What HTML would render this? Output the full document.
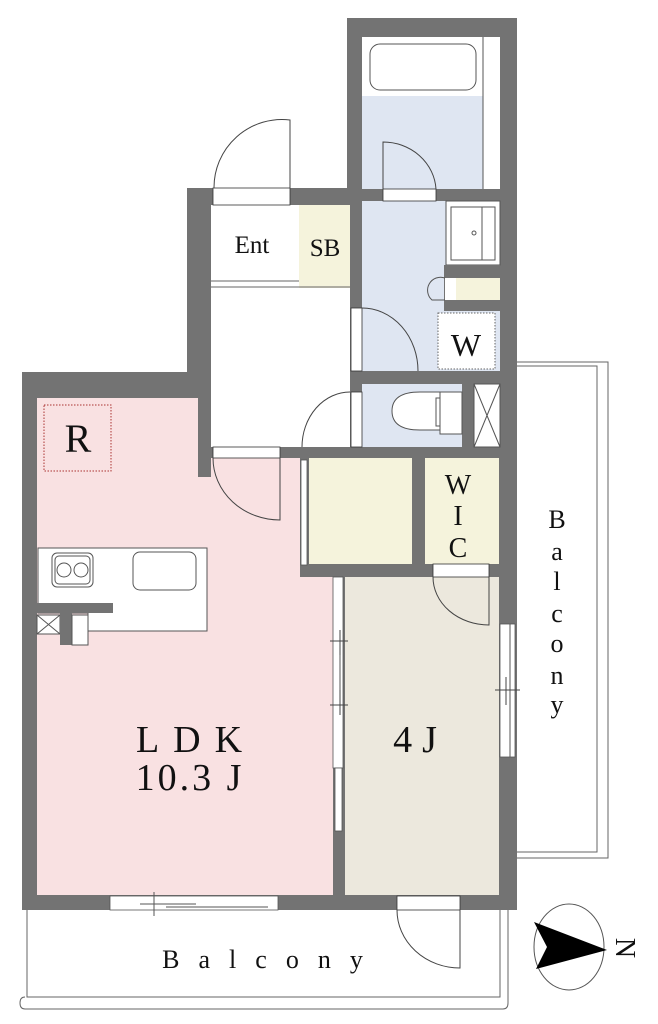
<!DOCTYPE html>
<html><head><meta charset="utf-8"><style>
html,body{margin:0;padding:0;background:#fff;}
svg{display:block;}
text{font-family:"Liberation Serif","Noto Serif CJK SC",serif;fill:#111;}
</style></head><body>
<svg width="658" height="1024" viewBox="0 0 658 1024" xmlns="http://www.w3.org/2000/svg">
<path d="M517,362 H608 V858 H517" fill="none" stroke="#666" stroke-width="1"/>
<path d="M517,366 H597 V852 H517" fill="none" stroke="#666" stroke-width="1"/>
<path d="M27,910 V997 H500 V910" fill="none" stroke="#666" stroke-width="1"/>
<path d="M508,910 V1003 Q508,1009 503,1009 H25 Q20,1009 20,1003 Q20,997 25,997" fill="none" stroke="#666" stroke-width="1"/>

<path d="M22,372 H187 V188 H347 V18 H517 V910 H22 Z" fill="#737373"/>

<rect x="362" y="37" width="138" height="152" fill="#fff"/>
<rect x="362" y="96" width="121" height="93" fill="#dfe6f2"/>
<line x1="483" y1="37" x2="483" y2="189" stroke="#555" stroke-width="1"/>
<rect x="370" y="44" width="106" height="46" rx="10" fill="#fff" stroke="#555" stroke-width="1"/>
<rect x="362" y="201" width="138" height="170" fill="#dfe6f2"/>
<rect x="446" y="201" width="54" height="64" fill="#fff" stroke="#555"/>
<rect x="451" y="207" width="44" height="53" fill="#fff" stroke="#555"/>
<line x1="482" y1="207" x2="482" y2="260" stroke="#555"/>
<circle cx="474" cy="233" r="2" fill="none" stroke="#555"/>
<rect x="444" y="265" width="56" height="46" fill="#737373"/>
<rect x="456" y="278" width="44" height="22" fill="#f5f3dc"/>
<rect x="445" y="278" width="11" height="22" fill="#fff"/>
<path d="M445,278 A13,13 0 0 0 432,300 H445" fill="none" stroke="#555"/>
<rect x="438" y="313" width="57" height="56" fill="#fff" stroke="#666" stroke-dasharray="1.5,1.5"/>
<text x="466" y="356" font-size="32" text-anchor="middle">W</text>
<rect x="362" y="384" width="100" height="63" fill="#dfe6f2"/>
<path d="M440,392 H420 Q392,392 392,411 Q392,430 420,430 H440 Z" fill="#fff" stroke="#555"/>
<rect x="440" y="392" width="22" height="42" fill="#fff" stroke="#555"/>
<rect x="436" y="398" width="4" height="28" fill="#fff" stroke="#555"/>
<rect x="474" y="384" width="26" height="63" fill="#fff" stroke="#555"/>
<path d="M474,384 L500,447 M500,384 L474,447" stroke="#555"/>
<rect x="211" y="205" width="139" height="242" fill="#fff"/>
<rect x="299" y="205" width="51" height="83" fill="#f5f3dc"/>
<line x1="211" y1="281" x2="299" y2="281" stroke="#666"/>
<line x1="211" y1="287" x2="350" y2="287" stroke="#666"/>
<text x="252" y="253" font-size="25" text-anchor="middle">Ent</text>
<text x="325" y="256" font-size="25" text-anchor="middle">SB</text>
<rect x="213" y="188" width="77" height="17" fill="#fff" stroke="#333" stroke-width="0.8"/>
<path d="M290,188 V120 A68,68 0 0 0 214,188" fill="none" stroke="#444"/>
<rect x="383" y="189" width="53" height="12" fill="#fff" stroke="#333" stroke-width="0.8"/>
<path d="M383,189 V142 A53,50 0 0 1 436,189" fill="none" stroke="#444"/>
<rect x="351" y="308" width="11" height="63" fill="#fff" stroke="#333" stroke-width="0.8"/>
<path d="M362,308 A56,63 0 0 1 418,371" fill="none" stroke="#444"/>
<rect x="351" y="392" width="11" height="55" fill="#fff" stroke="#333" stroke-width="0.8"/>
<path d="M350,392 A48,55 0 0 0 302,447" fill="none" stroke="#444"/>
<path d="M37,398 H198 V477 H211 V458 H300 V577 H333 V895 H37 Z" fill="#f9e1e2"/>
<rect x="213" y="447" width="67" height="11" fill="#fff" stroke="#333" stroke-width="0.8"/>
<path d="M280,458 V520 A67,62 0 0 1 213,458" fill="none" stroke="#444"/>
<text x="78" y="452" font-size="40" text-anchor="middle">R</text>
<rect x="44" y="405" width="67" height="66" fill="none" stroke="#a33" stroke-width="1" stroke-dasharray="1.5,1.5"/>
<path d="M38,548 H207 V631 H88 V613 H38 Z" fill="#fff" stroke="#555"/>
<rect x="37" y="603" width="76" height="10" fill="#737373"/>
<rect x="37" y="615" width="23" height="19" fill="#fff" stroke="#555"/>
<path d="M37,615 L60,634 M60,615 L37,634" stroke="#555"/>
<rect x="60" y="613" width="12" height="32" fill="#737373"/>
<rect x="72" y="615" width="16" height="30" fill="#fff" stroke="#555"/>
<rect x="52" y="553" width="41" height="34" rx="5" fill="#fff" stroke="#555"/>
<rect x="55" y="556" width="35" height="28" rx="4" fill="none" stroke="#555"/>
<circle cx="64" cy="570" r="7" fill="none" stroke="#555"/>
<circle cx="81" cy="570" r="7" fill="none" stroke="#555"/>
<rect x="133" y="552" width="63" height="38" rx="7" fill="#fff" stroke="#555"/>
<text x="196" y="752" font-size="38" text-anchor="middle" letter-spacing="14">LDK</text>
<text x="190" y="790" font-size="38" text-anchor="middle" letter-spacing="3">10.3 J</text>
<rect x="309" y="458" width="103" height="106" fill="#f5f3dc"/>
<rect x="301" y="460" width="6" height="105" fill="#fff" stroke="#555" stroke-width="0.8"/>
<rect x="425" y="458" width="74" height="106" fill="#f5f3dc"/>
<text x="458" y="494" font-size="28" text-anchor="middle">W</text>
<text x="458" y="525" font-size="28" text-anchor="middle">I</text>
<text x="458" y="557" font-size="28" text-anchor="middle">C</text>
<rect x="345" y="577" width="154" height="318" fill="#ece8dd"/>
<rect x="433" y="564" width="56" height="13" fill="#fff" stroke="#333" stroke-width="0.8"/>
<path d="M489,577 V625 A56,48 0 0 1 433,577" fill="none" stroke="#444"/>
<rect x="333" y="577" width="10" height="191" fill="#fff" stroke="#555" stroke-width="0.8"/>
<rect x="335" y="768" width="7" height="63" fill="#fff" stroke="#555" stroke-width="0.8"/>
<line x1="340" y1="630" x2="340" y2="715" stroke="#555"/>
<path d="M330,641 H348 M330,705 H348 M340,630 V655 M340,690 V715" stroke="#444"/>
<rect x="500" y="624" width="15" height="133" fill="#fff" stroke="#555" stroke-width="0.8"/>
<line x1="510" y1="624" x2="510" y2="757" stroke="#555"/>
<path d="M495,690 H520 M506,677 V705" stroke="#444"/>
<text x="420" y="752" font-size="38" text-anchor="middle" letter-spacing="10">4J</text>
<rect x="110" y="896" width="168" height="14" fill="#fff" stroke="#555" stroke-width="0.8"/>
<path d="M140,904 H196 M166,907 H268 M154,892 V916" stroke="#555"/>
<rect x="397" y="896" width="63" height="14" fill="#fff" stroke="#333" stroke-width="0.8"/>
<path d="M460,910 V968 A63,58 0 0 1 397,910" fill="none" stroke="#444"/>
<text x="272" y="968" font-size="26" text-anchor="middle" letter-spacing="19">Balcony</text>
<g font-size="26" text-anchor="middle">
<text x="557" y="528">B</text><text x="557" y="560">a</text><text x="557" y="590">l</text>
<text x="557" y="622">c</text><text x="557" y="652">o</text><text x="557" y="684">n</text><text x="557" y="713">y</text>
</g>
<ellipse cx="569" cy="947" rx="35" ry="43" fill="none" stroke="#555"/>
<path d="M534,922 L607,950 L536,969 L547,947 Z" fill="#000"/>
<text x="0" y="0" font-size="28" transform="translate(616,948) rotate(90)" text-anchor="middle">N</text>
</svg>
</body></html>
